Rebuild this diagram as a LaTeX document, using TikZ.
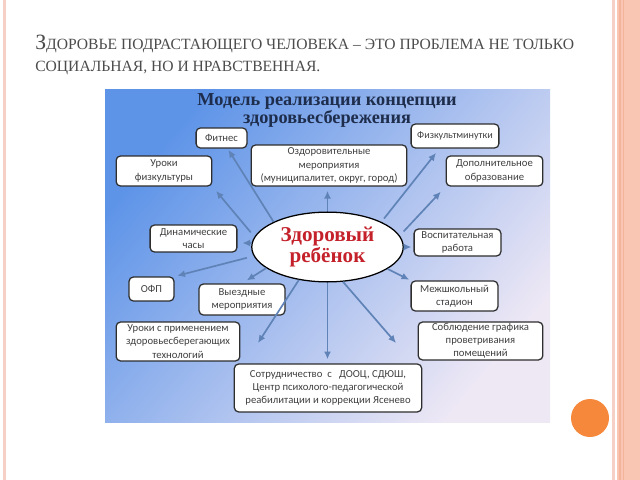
\documentclass[tikz,border=0pt]{standalone}
\usepackage{fontspec}
\setmainfont{Carlito}
\newfontfamily\titlefont{Liberation Serif}
\newfontfamily\headfont{Liberation Serif}
\usetikzlibrary{arrows.meta,shapes.geometric,positioning,calc}

\definecolor{skytop}{HTML}{5E94E8}
\definecolor{skymid}{HTML}{AEC6EF}
\definecolor{skybot}{HTML}{EEE8F5}
\definecolor{arrowblue}{HTML}{5F83B7}
\definecolor{boxline}{HTML}{2E2E2E}
\definecolor{boxtext}{HTML}{404040}
\definecolor{titlenavy}{HTML}{1E2D4C}
\definecolor{hubred}{HTML}{C4212B}
\definecolor{headgray}{HTML}{4C4C4C}
\definecolor{salmon}{HTML}{FAC6B4}
\definecolor{salmondark}{HTML}{F4B49C}
\definecolor{pinkline}{HTML}{F6CFC6}
\definecolor{dotorange}{HTML}{F5883A}

\tikzset{
  box/.style={draw=boxline, fill=white, line width=0.9pt, rounded corners=3pt,
    align=center, text=boxtext, inner sep=0.5pt, font=\fontsize{7.6}{9.4}\selectfont},
  arr/.style={draw=arrowblue, line width=1.2pt, -{Latex[length=5.5pt,width=5pt]}},
  hub/.style={ellipse, draw=black, line width=0.9pt, fill=white, align=center,
    inner sep=0pt, minimum width=107.7pt, minimum height=49.6pt,
    font=\titlefont\bfseries\fontsize{15}{14.5}\selectfont, text=hubred},
  headline/.style={anchor=base west, inner sep=0pt, text=headgray,
    font=\headfont\fontsize{11.1}{13}\selectfont}
}

\begin{document}
\begin{tikzpicture}[x=0.025cm, y=-0.025cm]
  \useasboundingbox (0,0) rectangle (640,480);
  \fill[white] (0,0) rectangle (640,480);
  % slide edges
  \fill[pinkline] (3,0) rectangle (6,480);
  \fill[pinkline] (611.5,0) rectangle (614.5,480);
  \fill[salmon] (617,0) rectangle (640,480);
  \fill[salmondark] (619,0) rectangle (620.5,480);
  \fill[salmondark] (622.5,0) rectangle (624,480);
  \fill[dotorange] (590,418) circle (19);

  % heading
  \node[headline] (head1) at (35,50)
    {{\fontsize{15.5}{15.5}\selectfont З}ДОРОВЬЕ ПОДРАСТАЮЩЕГО ЧЕЛОВЕКА – ЭТО ПРОБЛЕМА НЕ ТОЛЬКО};
  \node[headline] (head2) at (35,71) {СОЦИАЛЬНАЯ, НО И НРАВСТВЕННАЯ.};

  % scheme
  \shade[top color=skytop, middle color=skymid, bottom color=skybot, shading angle=50]
    (105,89) rectangle (550,422);
  \node[font=\titlefont\bfseries\fontsize{13}{12.8}\selectfont, text=titlenavy, align=center]
    (title) at (327,110) {Модель реализации концепции\\здоровьесбережения};

  \node[hub] (hub) at (327.5,247) {Здоровый\\ребёнок};

  \node[box, minimum width=36.1pt, minimum height=14.2pt] (fitnes) at (221.5,138) {Фитнес};
  \node[box, minimum width=68pt, minimum height=21.3pt] (fizra) at (164,171) {Уроки\\физкультуры};
  \node[box, minimum width=110.6pt, minimum height=29.1pt]
    (ozdor) at (329,165.5) {Оздоровительные\\мероприятия\\(муниципалитет, округ, город)};
  \node[box, minimum width=62.4pt, minimum height=17pt, font=\fontsize{7.2}{9}\selectfont]
    (fizmin) at (455,136) {Физкультминутки};
  \node[box, minimum width=68.7pt, minimum height=21.3pt] (dop) at (494.5,171) {Дополнительное\\образование};
  \node[box, minimum width=61.7pt, minimum height=19.1pt] (dyn) at (193.5,238.5) {Динамические\\часы};
  \node[box, minimum width=61.7pt, minimum height=19.1pt] (vosp) at (457.5,242.5) {Воспитательная\\работа};
  \node[box, minimum width=31.9pt, minimum height=17pt] (ofp) at (151.5,289) {ОФП};
  \node[box, minimum width=61pt, minimum height=22pt] (vyezd) at (242,299.5) {Выездные\\мероприятия};
  \node[box, minimum width=61.7pt, minimum height=21.3pt] (mezh) at (454.5,296) {Межшкольный\\стадион};
  \node[box, minimum width=87.9pt, minimum height=27.6pt] (urtech) at (178,341.5)
    {Уроки с применением\\здоровьесберегающих\\технологий};
  \node[box, minimum width=88.6pt, minimum height=26.9pt] (sobl) at (480.5,341)
    {Соблюдение графика\\проветривания\\помещений};
  \node[box, minimum width=133.2pt, minimum height=34pt] (sotr) at (328,388)
    {Сотрудничество\ \ с\ \ \ ДООЦ, СДЮШ,\\Центр психолого-педагогической\\реабилитации и коррекции Ясенево};

  \coordinate (urtechtip) at (258,343);
  \coordinate (sobltip) at (396,343);

  % arrows from the centre
  \draw[arr, shorten >=1pt] (hub.155) -- (fitnes.-60);
  \draw[arr, shorten <=4pt, shorten >=4pt] (hub.172) -- (fizra.south east);
  \draw[arr, shorten >=3pt] (hub.north) -- (hub.north |- ozdor.south);
  \draw[arr, shorten <=3pt, shorten >=4pt] (hub.25) -- (fizmin.-141);
  \draw[arr, shorten <=4pt, shorten >=5pt] (hub.9) -- (dop.south west);
  \draw[arr, shorten >=3.5pt] (hub.177) -- (hub.177 -| dyn.east);
  \draw[arr, shorten >=1.5pt] (hub.east) -- (hub.east -| vosp.west);
  \draw[arr, shorten <=5pt, shorten >=2pt] (hub.187) -- (ofp.north east);
  \draw[arr, shorten >=4pt] (hub.199) -- (vyezd.north);
  \draw[arr, shorten >=1pt] (hub.-20) -- (mezh.north west);
  \draw[arr] (hub.229) -- (urtechtip);
  \draw[arr, shorten >=3pt] (hub.south) -- (hub.south |- sotr.north);
  \draw[arr] (hub.-66) -- (sobltip);
\end{tikzpicture}
\end{document}
